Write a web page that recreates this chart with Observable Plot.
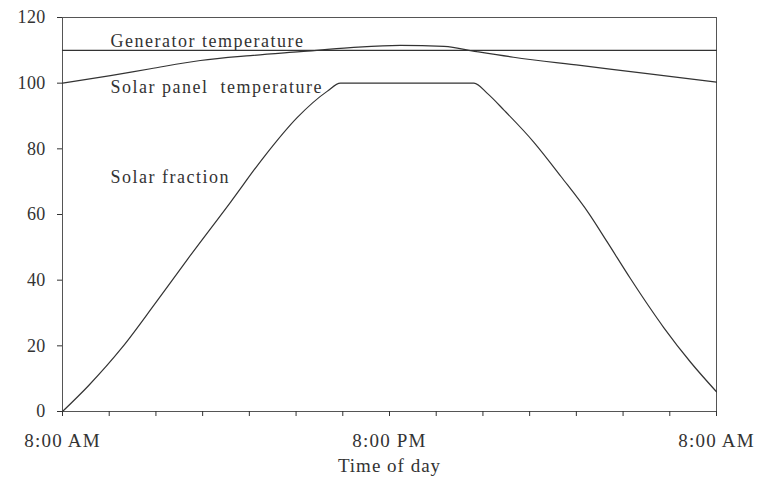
<!DOCTYPE html>
<html>
<head>
<meta charset="utf-8">
<script src="https://cdn.jsdelivr.net/npm/d3@7"></script>
<script src="https://cdn.jsdelivr.net/npm/@observablehq/plot@0.6"></script>
<style>
  html, body { margin: 0; padding: 0; background: #fff; }
  #chart svg { display: block; }
</style>
</head>
<body>
<div id="chart"></div>
<script>
// ---- Data (hours after 8:00 AM, values) ----
const fractionHours  = [0, 0.97, 2.19, 3.41, 4.6, 6.17, 7.39, 8.61, 9.71, 10.2, 15.1, 15.6, 16.2, 17.3, 18.3, 19.3, 20.0, 20.84, 22.07, 23.05, 24];
const fractionValues = [0, 8.0, 19.5, 33.0, 46.5, 63.8, 77.5, 89.5, 97.5, 100, 100, 96.8, 91.8, 82.0, 71.5, 60.5, 51.5, 40.5, 25.5, 15.0, 6];

const panelHours  = [0, 1.76, 3.23, 5.06, 6.9, 8.73, 10.57, 12.4, 14.0, 15.2, 16.55, 19.0, 21.46, 24];
const panelValues = [100, 102.3, 104.4, 106.9, 108.4, 109.6, 110.8, 111.5, 111.2, 109.6, 107.9, 105.4, 102.9, 100.3];

const generatorHours  = [0, 24];
const generatorValues = [110, 110];

const labelTexts  = ["Generator temperature", "Solar panel  temperature", "Solar fraction"];
const labelHours  = [1.76, 1.76, 1.76];
const labelValues = [112.8, 98.8, 71.4];

const yTicks = [0, 20, 40, 60, 80, 100, 120];
const xMajorTicks = [0, 12, 24];
const xMajorLabels = ["8:00 AM", "8:00 PM", "8:00 AM"];
const xMinorTicks = d3.range(15).map(i => i * 24 / 14);
const xTitle = "Time of day";

// ---- Build tables ----
const toRows = (hs, vs) => hs.map((h, i) => ({h, v: vs[i]}));
const fraction = toRows(fractionHours, fractionValues);
const panel = toRows(panelHours, panelValues);
const generator = toRows(generatorHours, generatorValues);
const labels = labelTexts.map((t, i) => ({t, h: labelHours[i], v: labelValues[i]}));

const ink = "#333";

const chart = Plot.plot({
  width: 773,
  height: 489,
  marginLeft: 62,
  marginRight: 57,
  marginTop: 17,
  marginBottom: 78,
  style: {fontFamily: '"Liberation Serif", "Times New Roman", serif', fontSize: "18px", color: ink, background: "#fff"},
  x: {domain: [0, 24]},
  y: {domain: [0, 120]},
  marks: [
    Plot.frame({stroke: "#555", strokeWidth: 1}),
    Plot.axisY({ticks: yTicks, tickSize: 5, tickPadding: 12, label: null, fontSize: 18, stroke: ink}),
    Plot.axisX({ticks: xMinorTicks, tickSize: 5, tickFormat: () => "", label: null, stroke: ink}),
    Plot.axisX({ticks: xMajorTicks, tickSize: 0, tickPadding: 22, label: null, fontSize: 19,
                tickFormat: d => xMajorLabels[xMajorTicks.indexOf(d)]}),
    Plot.line(generator, {x: "h", y: "v", stroke: ink, strokeWidth: 1.2}),
    Plot.line(panel, {x: "h", y: "v", stroke: ink, strokeWidth: 1.2, curve: "monotone-x"}),
    Plot.line(fraction, {x: "h", y: "v", stroke: ink, strokeWidth: 1.2, curve: "monotone-x"}),
    Plot.text(labels, {x: "h", y: "v", text: "t", textAnchor: "start", fontSize: 18, fill: ink}),
    Plot.text([xTitle], {frameAnchor: "bottom", dy: 60, fontSize: 19, fill: ink})
  ]
});

// letter spacing tweaks to mimic the wide serif type of the original
d3.select(chart).selectAll("text").each(function() {
  const t = this.textContent;
  if (labelTexts.includes(t)) this.style.letterSpacing = "1.5px";
  else if (xMajorLabels.includes(t)) this.style.letterSpacing = "1.2px";
  else if (t === xTitle) this.style.letterSpacing = "1px";
  else this.style.letterSpacing = "0.3px";
  this.style.whiteSpace = "pre";
});

document.getElementById("chart").appendChild(chart);
</script>
</body>
</html>
